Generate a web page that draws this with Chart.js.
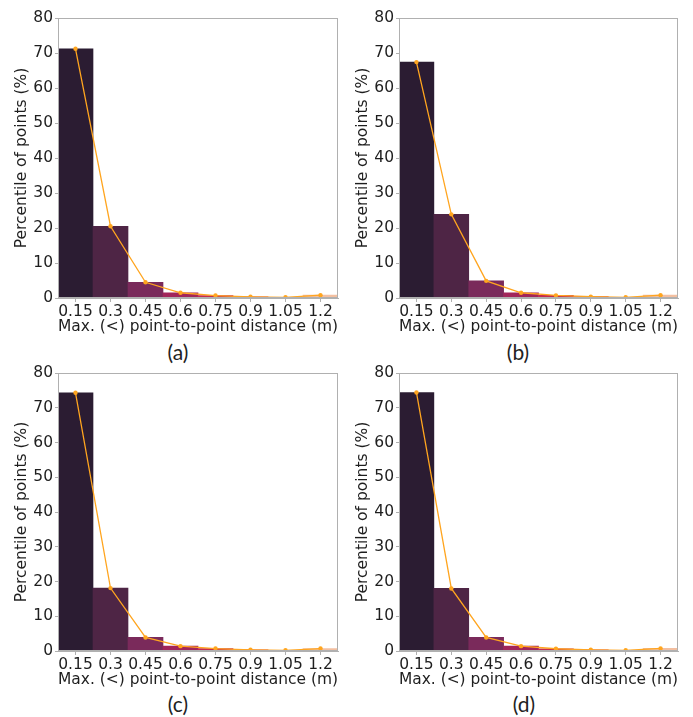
<!DOCTYPE html>
<html>
<head>
<meta charset="utf-8">
<script src="https://cdn.jsdelivr.net/npm/chart.js@4.4.1/dist/chart.umd.min.js"></script>
<style>
  html, body { margin: 0; padding: 0; background: #fff; }
  #fig { position: relative; width: 693px; height: 717px; overflow: hidden; }
  .panel { position: absolute; }
  .caption { position: absolute; font-family: "Lato", "Open Sans", sans-serif; font-size: 21px; color: #222; transform: translateX(-50%); line-height: 1; }
</style>
</head>
<body>
<div id="fig"></div>
<script>
// Bin upper limits (m)
const categories = ['0.15', '0.3', '0.45', '0.6', '0.75', '0.9', '1.05', '1.2'];

// Percentage of points per bin, one array per sub-figure
const seriesA = [71.2, 20.5, 4.5, 1.5, 0.7, 0.35, 0.2, 0.8];
const seriesB = [67.4, 23.9, 4.9, 1.5, 0.75, 0.4, 0.2, 0.8];
const seriesC = [74.3, 18.1, 3.9, 1.4, 0.7, 0.35, 0.2, 0.7];
const seriesD = [74.4, 18.0, 3.9, 1.4, 0.65, 0.35, 0.2, 0.75];

const captions = ['(a)', '(b)', '(c)', '(d)'];

// rocket-like sequential palette for the bins
const binColors = ['#2b1c32', '#4e2545', '#7a2a5b', '#a2255a', '#c52a4e', '#e2463f', '#f07a52', '#f3bfa0'];

const FONT = '"DejaVu Sans", sans-serif';
const FSIZE = 15.5;
const TEXT = '#1e1e1e';
const FRAME = '#b0b0b0';

// Panel placement: canvas box + y-axis width + paddings + title offset
const panels = [
  { data: seriesA, left: 0,   top: 0,   width: 346, height: 336, yAxisW: 58, padTop: 18, padRight: 8,  yTitlePad: 12.7, cap: [178, 341] },
  { data: seriesB, left: 346, top: 0,   width: 347, height: 336, yAxisW: 53, padTop: 18, padRight: 15, yTitlePad: 7.2,  cap: [518, 341] },
  { data: seriesC, left: 0,   top: 355, width: 346, height: 334, yAxisW: 58, padTop: 18, padRight: 8,  yTitlePad: 12.7, cap: [178, 693] },
  { data: seriesD, left: 346, top: 355, width: 347, height: 334, yAxisW: 53, padTop: 18, padRight: 15, yTitlePad: 7.2,  cap: [524, 693] }
];

// Draws the full rectangular frame around the plot area
const framePlugin = {
  id: 'frame',
  afterDraw(chart) {
    const { ctx, chartArea: a } = chart;
    ctx.save();
    ctx.strokeStyle = FRAME;
    ctx.lineWidth = 1;
    ctx.strokeRect(Math.round(a.left) + 0.5, Math.round(a.top) + 0.5, Math.round(a.right - a.left) - 1, Math.round(a.bottom - a.top) - 1);
    ctx.restore();
  }
};

const fig = document.getElementById('fig');

panels.forEach((p, i) => {
  const box = document.createElement('div');
  box.className = 'panel';
  box.style.left = p.left + 'px';
  box.style.top = p.top + 'px';
  box.style.width = p.width + 'px';
  box.style.height = p.height + 'px';
  const canvas = document.createElement('canvas');
  box.appendChild(canvas);
  fig.appendChild(box);

  const cap = document.createElement('div');
  cap.className = 'caption';
  cap.style.left = p.cap[0] + 'px';
  cap.style.top = p.cap[1] + 'px';
  cap.textContent = captions[i];
  fig.appendChild(cap);

  new Chart(canvas, {
    data: {
      labels: categories,
      datasets: [
        {
          type: 'line',
          data: p.data,
          borderColor: '#ffa51f',
          backgroundColor: '#ffa51f',
          borderWidth: 1.3,
          pointRadius: 2.2,
          pointHoverRadius: 2.2,
          pointBorderWidth: 0,
          tension: 0,
          order: 0
        },
        {
          type: 'bar',
          data: p.data,
          backgroundColor: binColors,
          borderWidth: 0,
          barPercentage: 1,
          categoryPercentage: 1,
          order: 1
        }
      ]
    },
    options: {
      responsive: true,
      maintainAspectRatio: false,
      animation: false,
      events: [],
      layout: { padding: { top: p.padTop, right: p.padRight, left: 0, bottom: 0 } },
      plugins: { legend: { display: false }, tooltip: { enabled: false }, title: { display: false } },
      scales: {
        x: {
          type: 'category',
          offset: true,
          grid: { display: true, drawOnChartArea: false, drawTicks: true, tickLength: 4, color: FRAME, offset: false },
          border: { display: true, color: FRAME },
          ticks: {
            autoSkip: false, maxRotation: 0, minRotation: 0, padding: 1,
            color: TEXT, font: { family: FONT, size: FSIZE }
          },
          title: {
            display: true,
            text: 'Max. (<) point-to-point distance (m)',
            color: TEXT,
            font: { family: FONT, size: FSIZE },
            padding: { top: 0, bottom: 0 }
          },
          afterFit(scale) { scale.height = 38; }
        },
        y: {
          min: 0, max: 80,
          grid: { display: true, drawOnChartArea: false, drawTicks: true, tickLength: 3, color: FRAME },
          border: { display: true, color: FRAME },
          ticks: {
            stepSize: 10, padding: 2,
            color: TEXT, font: { family: FONT, size: FSIZE }
          },
          title: {
            display: true,
            text: 'Percentile of points (%)',
            color: TEXT,
            font: { family: FONT, size: FSIZE },
            padding: { top: p.yTitlePad, bottom: 0 }
          },
          afterFit(scale) { scale.width = p.yAxisW; }
        }
      }
    },
    plugins: [framePlugin]
  });
});
</script>
</body>
</html>
